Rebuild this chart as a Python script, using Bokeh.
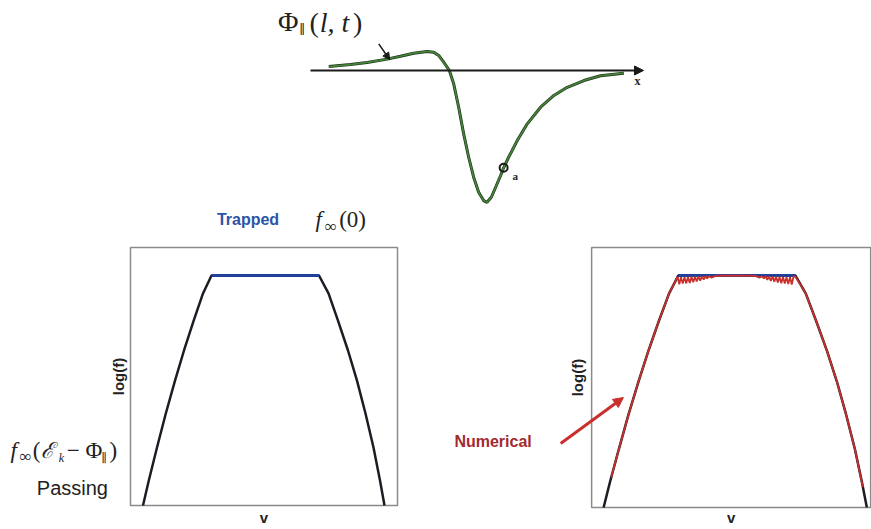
import math
from bokeh.plotting import figure
from bokeh.layouts import column, row
from bokeh.models import Range1d, Label, Arrow, NormalHead
from bokeh.embed import file_html
from bokeh.resources import INLINE

# ---- parallel potential along the field line, Phi_par(l, t) ----
l_pos = [0.55, 1.20, 1.70, 2.30, 2.70, 3.10, 3.50, 3.70, 3.85, 4.00, 4.17,
         4.30, 4.45, 4.60, 4.75, 4.90, 5.05, 5.20, 5.30, 5.43, 5.56, 5.71,
         5.80, 5.95, 6.21, 6.51, 6.91, 7.31, 7.71, 8.21, 8.71, 9.41]
phi_par = [0.030, 0.045, 0.061, 0.086, 0.108, 0.131, 0.144, 0.139, 0.114,
           0.063, 0.000, -0.101, -0.278, -0.480, -0.657, -0.808, -0.922,
           -0.985, -0.998, -0.960, -0.884, -0.795, -0.737, -0.657, -0.530,
           -0.404, -0.278, -0.189, -0.127, -0.076, -0.040, -0.020]
l_axis = [0.0, 10.0]
point_a_l, point_a_phi = 5.80, -0.737

# ---- distribution function log(f) versus v ----
v_model = [-3.025, -2.88, -2.675, -2.455, -2.225, -2.0, -1.758, -1.525,
           -1.3125, 1.375, 1.6125, 1.85, 2.1, 2.325, 2.5375, 2.7375, 2.9,
           3.0125]
logf_model = [0.0, 0.109, 0.252, 0.400, 0.543, 0.674, 0.804, 0.922, 1.0,
              1.0, 0.922, 0.804, 0.674, 0.543, 0.400, 0.252, 0.109, 0.0]
v_trapped = [-1.3125, 1.375]
logf_trapped = [1.0, 1.0]

# numerical solution (noisy plateau)
v_num = [-2.85, -2.675, -2.455, -2.225, -2.0, -1.758, -1.525, -1.33,
         -1.29, -1.25, -1.21, -1.17, -1.13, -1.09, -1.05, -1.01, -0.97,
         -0.93, -0.89, -0.85, -0.81, -0.77, -0.73, -0.69, -0.65, -0.61,
         -0.55, -0.45, -0.20, 0.20, 0.45, 0.55, 0.61, 0.65, 0.69, 0.73,
         0.77, 0.81, 0.85, 0.89, 0.93, 0.97, 1.01, 1.05, 1.09, 1.13, 1.17,
         1.21, 1.25, 1.29, 1.33, 1.375, 1.6125, 1.85, 2.1, 2.325, 2.5375,
         2.7375, 2.92]
logf_num = [0.130, 0.252, 0.400, 0.543, 0.674, 0.804, 0.922, 0.995,
            0.962, 0.993, 0.965, 0.993, 0.966, 0.994, 0.968, 0.994, 0.971,
            0.995, 0.974, 0.995, 0.978, 0.996, 0.982, 0.997, 0.987, 0.997,
            0.991, 0.998, 0.999, 0.999, 0.998, 0.991, 0.997, 0.987, 0.997,
            0.981, 0.996, 0.977, 0.995, 0.973, 0.995, 0.970, 0.994, 0.967,
            0.994, 0.965, 0.993, 0.963, 0.993, 0.961, 0.995, 0.995, 0.922,
            0.804, 0.674, 0.543, 0.400, 0.252, 0.088]

SANS = "Liberation Sans"
SERIF = "Liberation Serif"
TXT = "#222222"


def lbl(p, x, y, text, size, color=TXT, font=SANS, style="normal",
        align="left", baseline="middle", angle=0.0):
    p.add_layout(Label(x=x, y=y, text=text, text_font=font,
                       text_font_size=f"{size}px", text_font_style=style,
                       text_color=color, text_align=align,
                       text_baseline=baseline, angle=angle))


def bare(width, height, xr, yr):
    p = figure(width=width, height=height, output_backend="svg",
               toolbar_location=None, x_range=Range1d(*xr),
               y_range=Range1d(*yr), x_axis_type=None, y_axis_type=None,
               min_border=0)
    p.grid.visible = False
    p.outline_line_color = None
    p.background_fill_color = "white"
    return p


# ---------------- top: potential ----------------
top = bare(871, 208, (-9.309, 16.847), (-1.045, 0.530))
top.add_layout(Arrow(x_start=l_axis[0], y_start=0, x_end=l_axis[1], y_end=0,
                     line_color="#1a1a1a", line_width=2,
                     end=NormalHead(size=9, fill_color="#1a1a1a",
                                    line_color="#1a1a1a")))
top.line(l_pos, phi_par, line_color="#1f351b", line_width=3.0)
top.line(l_pos, phi_par, line_color="#46843a", line_width=1.7)
top.scatter([point_a_l], [point_a_phi], size=8, marker="circle",
            fill_color=None, line_color="#1a1a1a", line_width=2)
lbl(top, 6.07, -0.80, "a", 11, font=SERIF, style="bold")
lbl(top, 9.82, -0.076, "x", 12, font=SERIF, style="bold", align="center")
# Phi_par(l, t) label and its pointer
lbl(top, -0.36, 0.371, "Φ", 28, font=SERIF, align="right")
lbl(top, -0.33, 0.31, "∥", 13, font="DejaVu Serif")
lbl(top, -0.03, 0.364, "(", 28, font=SERIF)
lbl(top, 0.28, 0.364, "l, t", 28, font=SERIF, style="italic")
lbl(top, 1.28, 0.364, ")", 28, font=SERIF)
top.add_layout(Arrow(x_start=2.05, y_start=0.202, x_end=2.38, y_end=0.081,
                     line_color="#1a1a1a", line_width=1.5,
                     end=NormalHead(size=7, fill_color="#1a1a1a",
                                    line_color="#1a1a1a")))


def panel(width, xr, yr, box_x, box_y, ylab_x, ylab_y, xlab_y):
    p = bare(width, 321, xr, yr)
    # plotting box
    p.quad(left=[box_x[0]], right=[box_x[1]], bottom=[box_y[0]],
           top=[box_y[1]], fill_color=None, line_color="#8a8a8a",
           line_width=1.5)
    lbl(p, ylab_x, ylab_y, "log(f)", 15, style="bold", align="center",
        angle=math.pi / 2)
    lbl(p, sum(box_x) / 2, xlab_y, "v", 15, style="bold", align="center")
    return p


# ---------------- bottom left: model ----------------
left = panel(440, (-6.5875, 4.4125), (-0.1043, 1.2913),
             (-3.3375, 3.3375), (0.0, 1.1217), -3.64, 0.561, -0.052)
left.line(v_model, logf_model, line_color="#1c1c24", line_width=2.5)
left.line(v_trapped, logf_trapped, line_color="#21409a", line_width=3)
lbl(left, -0.40, 1.243, "Trapped", 16, color="#2b55a8", style="bold",
    align="center")
lbl(left, 1.29, 1.243, "f", 23, font=SERIF, style="italic")
lbl(left, 1.52, 1.215, "∞", 17, font=SERIF)
lbl(left, 1.88, 1.243, "(0)", 23, font=SERIF)
# f_inf(E_k - Phi_par)
lbl(left, -6.34, 0.239, "f", 23, font=SERIF, style="italic")
lbl(left, -6.11, 0.211, "∞", 17, font=SERIF)
lbl(left, -5.78, 0.239, "(", 23, font=SERIF)
lbl(left, -5.57, 0.239, "ℰ", 22, font="DejaVu Serif", style="italic")
lbl(left, -5.13, 0.207, "k", 12, font=SERIF, style="italic")
lbl(left, -4.93, 0.239, "− Φ", 23, font=SERIF)
lbl(left, -4.06, 0.207, "∥", 12, font="DejaVu Serif")
lbl(left, -3.86, 0.239, ")", 23, font=SERIF)
lbl(left, -4.79, 0.074, "Passing", 20, align="center")

# ---------------- bottom right: numerical ----------------
right = panel(431, (-6.766, 3.119), (-0.0948, 1.2888),
              (-3.30, 3.10), (0.0, 1.121), -3.62, 0.560, -0.045)
right.line(v_model, logf_model, line_color="#1c1c24", line_width=2.5)
right.line(v_trapped, logf_trapped, line_color="#21409a", line_width=3)
right.line(v_num, logf_num, line_color="#c9302c", line_width=1.8)
lbl(right, -5.56, 0.284, "Numerical", 16, color="#a32a2e", style="bold",
    align="center")
right.add_layout(Arrow(x_start=-4.01, y_start=0.276, x_end=-2.57, y_end=0.474,
                       line_color="#c8302e", line_width=3,
                       end=NormalHead(size=10, fill_color="#c8302e",
                                      line_color="#c8302e")))

p = column(top, row(left, right))
open("out.html", "w").write(file_html(p, INLINE))
